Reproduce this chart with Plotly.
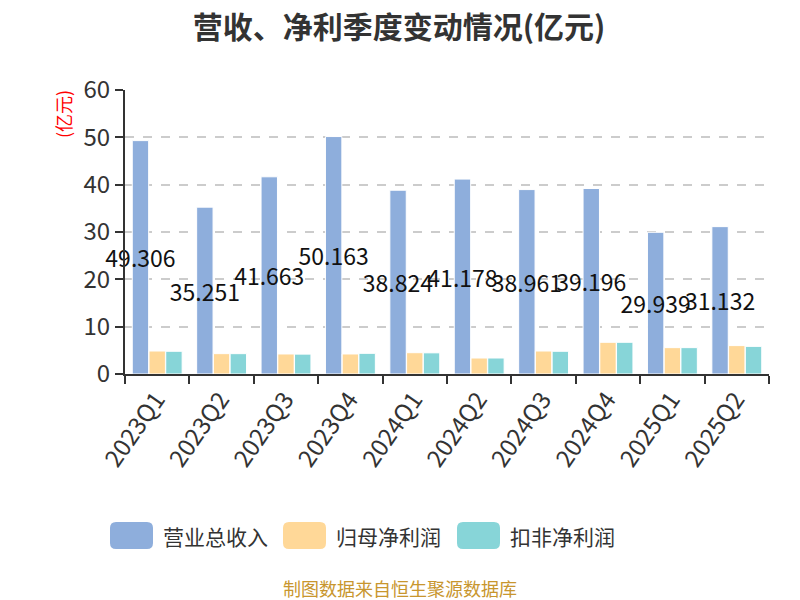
import plotly.graph_objects as go

# quarterly figures, unit: 100m CNY
quarters = ['2023Q1', '2023Q2', '2023Q3', '2023Q4', '2024Q1',
            '2024Q2', '2024Q3', '2024Q4', '2025Q1', '2025Q2']
revenue = [49.306, 35.251, 41.663, 50.163, 38.824, 41.178, 38.961, 39.196, 29.939, 31.132]
net_profit = [4.86, 4.30, 4.23, 4.23, 4.50, 3.38, 4.86, 6.70, 5.57, 6.00]
net_profit_deducted = [4.80, 4.30, 4.20, 4.37, 4.47, 3.38, 4.80, 6.70, 5.57, 5.84]

series_names = ['营业总收入', '归母净利润', '扣非净利润']
colors = ['#8eaedc', '#ffd898', '#87d5d8']

font_cn = 'Noto Sans CJK SC, Open Sans, sans-serif'

# plot area on the page (the page body adds 8px around the figure)
L, R, T, B = 125, 769, 90, 374


def px(x):
    return (x - L) / (R - L)


def py(y):
    return (B - y) / (B - T)


def rounded_box(x0, y0, x1, y1, r=6):
    # rounded rectangle as an svg path in paper coords
    pts = [
        f'M {px(x0 + r)},{py(y0)}',
        f'L {px(x1 - r)},{py(y0)}',
        f'Q {px(x1)},{py(y0)} {px(x1)},{py(y0 + r)}',
        f'L {px(x1)},{py(y1 - r)}',
        f'Q {px(x1)},{py(y1)} {px(x1 - r)},{py(y1)}',
        f'L {px(x0 + r)},{py(y1)}',
        f'Q {px(x0)},{py(y1)} {px(x0)},{py(y1 - r)}',
        f'L {px(x0)},{py(y0 + r)}',
        f'Q {px(x0)},{py(y0)} {px(x0 + r)},{py(y0)}',
        'Z',
    ]
    return ' '.join(pts)


fig = go.Figure()

fig.add_trace(go.Bar(
    x=quarters, y=revenue, name=series_names[0],
    marker=dict(color=colors[0], line=dict(color='white', width=1)),
    text=[f'{v:.3f}' for v in revenue],
    textposition='inside', insidetextanchor='middle', textangle=0,
    constraintext='none', cliponaxis=False,
    insidetextfont=dict(color='#111', size=23, family=font_cn),
))
fig.add_trace(go.Bar(
    x=quarters, y=net_profit, name=series_names[1],
    marker=dict(color=colors[1], line=dict(color='white', width=1)),
))
fig.add_trace(go.Bar(
    x=quarters, y=net_profit_deducted, name=series_names[2],
    marker=dict(color=colors[2], line=dict(color='white', width=1)),
))

# custom legend with big rounded boxes
legend_x = [110, 283, 457]
shapes = []
annotations = []
for i, name in enumerate(series_names):
    shapes.append(dict(type='path', xref='paper', yref='paper',
                       path=rounded_box(legend_x[i], 522, legend_x[i] + 43, 549),
                       fillcolor=colors[i], line=dict(width=0)))
    annotations.append(dict(xref='paper', yref='paper',
                            x=px(legend_x[i] + 51), y=py(536), text=name, showarrow=False,
                            xanchor='left', yanchor='middle',
                            font=dict(size=21, color='#333', family=font_cn)))

annotations.append(dict(xref='paper', yref='paper', x=px(63), y=py(114),
                        text='(亿元)', showarrow=False, textangle=-90,
                        xanchor='center', yanchor='middle',
                        font=dict(size=18, color='red', family=font_cn)))
annotations.append(dict(xref='paper', yref='paper', x=px(400), y=py(588),
                        text='制图数据来自恒生聚源数据库', showarrow=False,
                        xanchor='center', yanchor='middle',
                        font=dict(size=18, color='#c8962e', family=font_cn)))

fig.update_layout(
    width=800, height=600,
    margin=dict(l=L - 8, r=800 - R + 8, t=T - 8, b=600 - B + 8),
    paper_bgcolor='white', plot_bgcolor='white',
    title=dict(text='<b>营收、净利季度变动情况(亿元)</b>', x=0.5 - 9 / 800, xanchor='center',
               y=1 - 19 / 600, yanchor='middle',
               font=dict(size=30, color='#333', family=font_cn)),
    barmode='group', bargap=0.22, bargroupgap=0.02,
    showlegend=False,
    shapes=shapes, annotations=annotations,
    font=dict(family=font_cn),
)
fig.update_xaxes(
    type='category', tickangle=-55, tickson='boundaries',
    ticks='outside', ticklen=8, tickwidth=2, tickcolor='#333',
    showline=True, linecolor='#333', linewidth=2,
    tickfont=dict(size=24, color='#333', family=font_cn),
    ticklabelshift=-1,
    showgrid=False, automargin=False,
)
fig.update_yaxes(
    range=[0, 60], dtick=10,
    ticks='outside', ticklen=8, tickwidth=2, tickcolor='#333',
    showline=True, linecolor='#333', linewidth=2,
    showgrid=True, gridcolor='#cccccc', griddash='dash', gridwidth=1.5,
    zeroline=False, automargin=False,
    tickfont=dict(size=24, color='#333', family=font_cn),
)

fig.write_html('out.html')
